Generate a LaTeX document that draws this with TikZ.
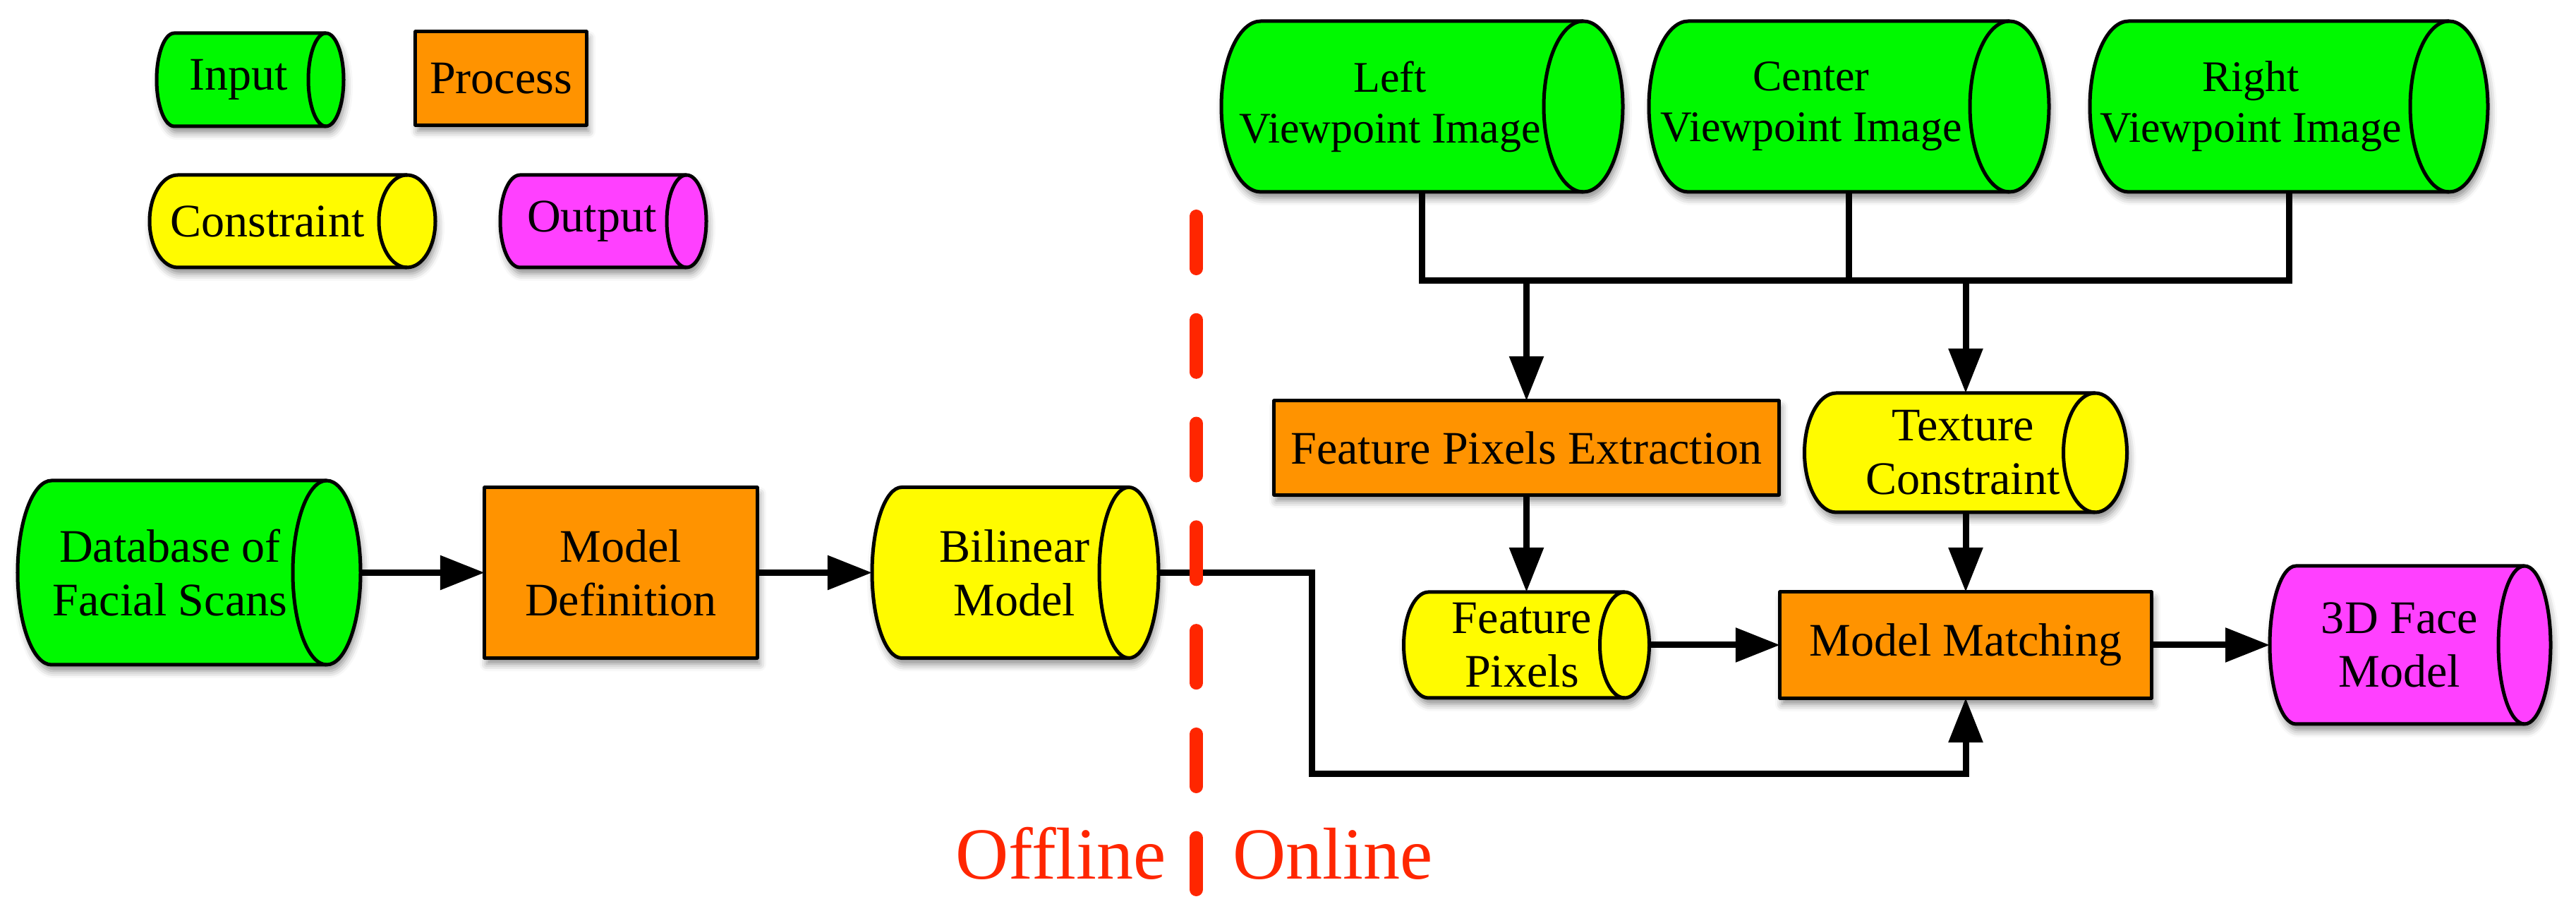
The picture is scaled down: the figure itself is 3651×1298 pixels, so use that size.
\documentclass[tikz,border=0pt]{standalone}
\usepackage{fontspec}
\setmainfont{Liberation Serif}
\usetikzlibrary{arrows.meta,calc,shadows.blur}
\definecolor{cgreen}{RGB}{0,249,0}
\definecolor{corange}{RGB}{255,147,0}
\definecolor{cyellow}{RGB}{255,251,0}
\definecolor{cmagenta}{RGB}{255,64,255}
\definecolor{cred}{RGB}{255,38,0}
\newcommand\fmain{\fontsize{18.8pt}{21.6pt}\selectfont}
\newcommand\ftop{\fontsize{17.6pt}{20.5pt}\selectfont}
\newcommand\fbig{\fontsize{29.6pt}{34pt}\selectfont}
\tikzset{
  shapeline/.style={draw=black, line width=0.05cm, line join=round},
  myshadow/.style={blur shadow={shadow xshift=0.03cm, shadow yshift=-0.09cm, shadow blur radius=0.1cm, shadow opacity=45}},
  cylframe/.style={draw=none, inner sep=0pt, outer sep=0pt},
  txt/.style={font=\fmain, align=center, inner sep=0pt},
  toptxt/.style={font=\ftop, align=center, inner sep=0pt},
  procbox/.style={shapeline, fill=corange, myshadow, inner sep=0pt, outer sep=0pt, font=\fmain, align=center},
  conn/.style={draw=black, line width=0.09cm, line join=miter},
  arr/.style={conn, -{Triangle[length=0.63cm, width=0.47cm, fill=black, color=black]}},
  divider/.style={draw=cred, line width=0.19cm, line cap=round, dash pattern=on 0.74cm off 0.727cm},
  bigred/.style={font=\fbig, text=cred, inner sep=0pt, anchor=base}
}
% #1 name, #2 cx, #3 cy, #4 w, #5 h, #6 rx, #7 fill, #8 text x, #9 text
\newcommand\cylnode[9]{%
  \node[cylframe, minimum width=#4*0.01cm, minimum height=#5*0.01cm] (#1) at (#2,#3) {};
  \path[shapeline, fill=#7, myshadow]
    ($(#1.north east)+(-#6,0)$) -- ($(#1.north west)+(#6,0)$)
    arc[start angle=90, end angle=270, x radius=#6, y radius=#5/2]
    -- ($(#1.south east)+(-#6,0)$)
    arc[start angle=-90, end angle=90, x radius=#6, y radius=#5/2] -- cycle;
  \draw[shapeline] ($(#1.north east)+(-#6,0)$)
    arc[start angle=90, end angle=270, x radius=#6, y radius=#5/2];
  \node[txt] (#1-t) at (#8,#3) {#9};
}
\newcommand\cylnodetop[9]{%
  \node[cylframe, minimum width=#4*0.01cm, minimum height=#5*0.01cm] (#1) at (#2,#3) {};
  \path[shapeline, fill=#7, myshadow]
    ($(#1.north east)+(-#6,0)$) -- ($(#1.north west)+(#6,0)$)
    arc[start angle=90, end angle=270, x radius=#6, y radius=#5/2]
    -- ($(#1.south east)+(-#6,0)$)
    arc[start angle=-90, end angle=90, x radius=#6, y radius=#5/2] -- cycle;
  \draw[shapeline] ($(#1.north east)+(-#6,0)$)
    arc[start angle=90, end angle=270, x radius=#6, y radius=#5/2];
  \node[toptxt] (#1-t) at (#8,#3) {#9};
}
\begin{document}
\begin{tikzpicture}[x=0.01cm, y=0.01cm]
\useasboundingbox (0,0) rectangle (3651,1298);
% legend
\cylnode{lin}{354.5}{1185}{265}{132}{25}{cgreen}{338}{Input}
\node[procbox, minimum width=2.42cm, minimum height=1.32cm] (lproc) at (710,1187) {Process};
\cylnode{lcon}{414.5}{984.5}{405}{131}{40}{cyellow}{379}{Constraint}
\cylnode{lout}{855}{984.5}{292}{131}{28}{cmagenta}{839}{Output}
% offline part
\cylnode{db}{268}{486.5}{486}{261}{48}{cgreen}{241}{Database of\\Facial Scans}
\node[procbox, minimum width=3.86cm, minimum height=2.41cm] (md) at (880,486.5) {Model\\Definition};
\cylnode{bm}{1439}{486.5}{406}{242}{42}{cyellow}{1438}{Bilinear\\Model}
% online part
\cylnodetop{lv}{2015.5}{1147}{569}{242}{56}{cgreen}{1970}{Left\\Viewpoint Image}
\cylnodetop{cv}{2620.5}{1147}{567}{242}{56}{cgreen}{2567}{Center\\Viewpoint Image}
\cylnodetop{rv}{3244}{1147}{564}{242}{55}{cgreen}{3190}{Right\\Viewpoint Image}
\node[procbox, minimum width=7.15cm, minimum height=1.33cm] (fpe) at (2163.5,663.5) {Feature Pixels Extraction};
\cylnode{tc}{2786}{656.5}{457}{169}{45}{cyellow}{2782}{Texture\\Constraint}
\cylnode{fp}{2163.5}{384}{348}{150}{35}{cyellow}{2157}{Feature\\Pixels}
\node[procbox, minimum width=5.26cm, minimum height=1.5cm] (mm) at (2786,384) {Model Matching};
\cylnode{face}{3416}{384}{398}{224}{37}{cmagenta}{3401}{3D Face\\Model}
% connectors
\coordinate (bar) at (2620.5,900);
\draw[conn] (lv.south) |- (cv.south |- bar) -| (rv.south);
\draw[conn] (cv.south) -- (cv.south |- bar);
\draw[arr] (fpe.north |- bar) -- (fpe.north);
\draw[arr] (tc.north |- bar) -- (tc.north);
\draw[arr] (fpe.south) -- (fp.north);
\draw[arr] (tc.south) -- (mm.north);
\draw[arr] (fp.east) -- (mm.west);
\draw[arr] (mm.east) -- (face.west);
\draw[arr] (db.east) -- (md.west);
\draw[arr] (md.east) -- (bm.west);
\coordinate (bend) at (1859,201);
\draw[arr] (bm.east) -| (bend) -| (mm.south);
% divider
\coordinate (dtop) at (1695.5,991.5);
\coordinate (dbot) at (1695.5,37.5);
\draw[divider] (dtop) -- (dbot);
\node[bigred] (offl) at (1503.5,52) {Offline};
\node[bigred] (onl) at (1889,52) {Online};
\end{tikzpicture}
\end{document}
